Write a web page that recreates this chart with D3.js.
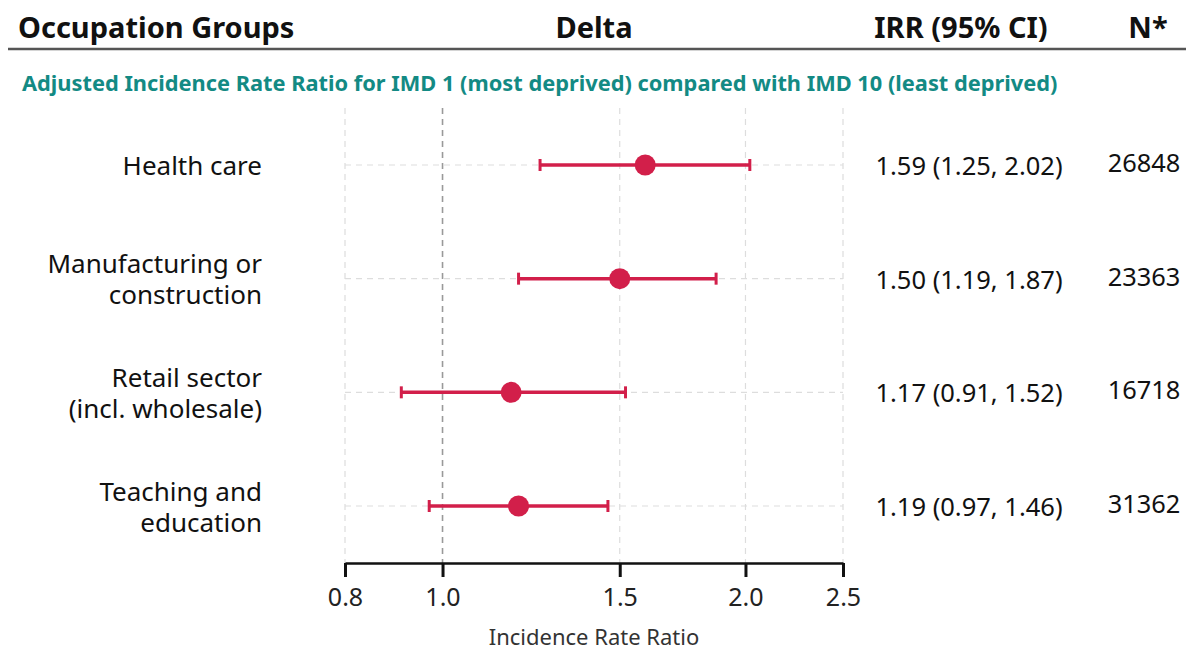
<!DOCTYPE html>
<html>
<head>
<style>
  body { margin: 0; background: #fff; }
  svg text { font-family: "Source Sans Pro", "Noto Sans", sans-serif; }
</style>
</head>
<body>
<script src="https://cdn.jsdelivr.net/npm/d3@7"></script>
<script>
// Data
var groups = ["Health care", "Manufacturing or\nconstruction", "Retail sector\n(incl. wholesale)", "Teaching and\neducation"];
var irr = [1.59, 1.50, 1.17, 1.19];
var lower = [1.25, 1.19, 0.91, 0.97];
var upper = [2.02, 1.87, 1.52, 1.46];
var counts = [26848, 23363, 16718, 31362];
var tickValues = [0.8, 1.0, 1.5, 2.0, 2.5];

var width = 1189, height = 652;
var red = "#d21f4a", teal = "#138a84";

var svg = d3.select("body").append("svg")
    .attr("width", width)
    .attr("height", height);

// scales
var x = d3.scaleLog().domain([0.8, 2.5]).range([345, 843]);
var y = d3.scalePoint().domain(d3.range(groups.length)).range([165, 506]);

// header
var header = svg.append("g").attr("font-weight", "bold").attr("font-size", 29).attr("fill", "#111");
header.append("text").attr("x", 18).attr("y", 38).text("Occupation Groups");
header.append("text").attr("x", 594).attr("y", 38).attr("text-anchor", "middle").text("Delta");
header.append("text").attr("x", 961).attr("y", 38).attr("text-anchor", "middle").text("IRR (95% CI)");
header.append("text").attr("x", 1148).attr("y", 38).attr("text-anchor", "middle").text("N*");

svg.append("line")
    .attr("x1", 8).attr("x2", 1186).attr("y1", 49).attr("y2", 49)
    .attr("stroke", "#555").attr("stroke-width", 2.5);

svg.append("text")
    .attr("x", 22).attr("y", 91)
    .attr("font-size", 21.8).attr("font-weight", "bold").attr("fill", teal)
    .text("Adjusted Incidence Rate Ratio for IMD 1 (most deprived) compared with IMD 10 (least deprived)");

// grid lines
svg.append("g").selectAll("line")
    .data(tickValues)
    .join("line")
    .attr("x1", d => x(d)).attr("x2", d => x(d))
    .attr("y1", 108).attr("y2", 563)
    .attr("stroke", d => d === 1 ? "#999" : "#ddd")
    .attr("stroke-width", d => d === 1 ? 1.6 : 1.2)
    .attr("stroke-dasharray", "6,5");

svg.append("g").selectAll("line")
    .data(groups)
    .join("line")
    .attr("x1", 345).attr("x2", 843)
    .attr("y1", (d, i) => y(i)).attr("y2", (d, i) => y(i))
    .attr("stroke", "#ddd").attr("stroke-width", 1.2)
    .attr("stroke-dasharray", "6,5");

// axis
var axis = svg.append("g")
    .attr("transform", "translate(0,563)")
    .call(d3.axisBottom(x).tickValues(tickValues).tickFormat(d3.format(".1f")).tickSize(14).tickSizeOuter(0));
axis.select(".domain").attr("stroke", "#111").attr("stroke-width", 2.5);
axis.selectAll(".tick line").attr("stroke", "#111").attr("stroke-width", 3);
axis.selectAll(".tick text")
    .attr("font-size", 25).attr("fill", "#222").attr("dy", "1.05em")
    .style("font-family", "'Source Sans Pro', 'Noto Sans', sans-serif");

svg.append("text")
    .attr("x", 594).attr("y", 645)
    .attr("text-anchor", "middle").attr("font-size", 22).attr("fill", "#333")
    .text("Incidence Rate Ratio");

// rows
var rows = svg.append("g").selectAll("g")
    .data(groups)
    .join("g");

rows.append("line")
    .attr("x1", (d, i) => x(lower[i])).attr("x2", (d, i) => x(upper[i]))
    .attr("y1", (d, i) => y(i)).attr("y2", (d, i) => y(i))
    .attr("stroke", red).attr("stroke-width", 3.5);

rows.selectAll(".cap")
    .data((d, i) => [{v: lower[i], i: i}, {v: upper[i], i: i}])
    .join("line")
    .attr("x1", d => x(d.v)).attr("x2", d => x(d.v))
    .attr("y1", d => y(d.i) - 6).attr("y2", d => y(d.i) + 6)
    .attr("stroke", red).attr("stroke-width", 3);

rows.append("circle")
    .attr("cx", (d, i) => x(irr[i])).attr("cy", (d, i) => y(i))
    .attr("r", 10.5).attr("fill", red);

// group labels
rows.append("text")
    .attr("text-anchor", "end").attr("font-size", 26).attr("fill", "#111")
    .each(function (d, i) {
        var lines = d.split("\n");
        var t = d3.select(this);
        var y0 = y(i) + 10 - (lines.length - 1) * 15.5;
        lines.forEach(function (l, k) {
            t.append("tspan").attr("x", 262).attr("y", y0 + k * 31).text(l);
        });
    });

// IRR text
rows.append("text")
    .attr("x", 969).attr("y", (d, i) => y(i) + 10)
    .attr("text-anchor", "middle").attr("font-size", 25.5).attr("fill", "#111")
    .text((d, i) => irr[i].toFixed(2) + " (" + lower[i].toFixed(2) + ", " + upper[i].toFixed(2) + ")");

rows.append("text")
    .attr("x", 1144).attr("y", (d, i) => y(i) + 7)
    .attr("text-anchor", "middle").attr("font-size", 25.4).attr("fill", "#111")
    .text((d, i) => counts[i]);
</script>
</body>
</html>
